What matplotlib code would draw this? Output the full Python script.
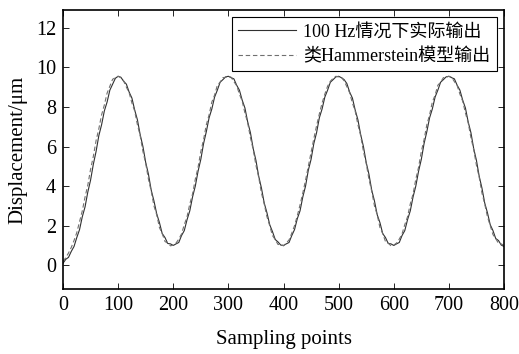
import matplotlib
matplotlib.use("Agg")
import matplotlib.pyplot as plt

sample_idx = list(range(0, 801, 5))

actual = [
    0.10, 0.30, 0.40, 0.70, 0.95, 1.40, 1.80, 2.45, 2.95, 3.70, 4.30, 5.10, 5.75, 6.55, 7.10, 7.80, 8.25, 8.85, 9.15, 9.45, 9.55,
    9.50, 9.30, 9.15, 8.75, 8.45, 7.85, 7.35, 6.60, 6.00, 5.20, 4.60, 3.80, 3.25, 2.60, 2.15, 1.60, 1.40, 1.10, 1.08, 1.00,
    1.08, 1.15, 1.50, 1.75, 2.30, 2.75, 3.45, 4.00, 4.75, 5.35, 6.15, 6.75, 7.45, 7.90, 8.50, 8.85, 9.25, 9.38, 9.52, 9.55,
    9.48, 9.42, 9.10, 8.85, 8.35, 7.95, 7.25, 6.70, 5.90, 5.30, 4.50, 3.90, 3.15, 2.65, 2.05, 1.70, 1.30, 1.18, 1.02, 1.00,
    1.08, 1.15, 1.50, 1.80, 2.35, 2.75, 3.45, 4.00, 4.80, 5.35, 6.15, 6.70, 7.45, 7.90, 8.50, 8.85, 9.25, 9.38, 9.52, 9.55,
    9.48, 9.38, 9.18, 8.75, 8.45, 7.85, 7.35, 6.60, 6.00, 5.20, 4.60, 3.80, 3.25, 2.55, 2.15, 1.60, 1.40, 1.10, 1.08, 1.00,
    1.08, 1.15, 1.50, 1.75, 2.30, 2.75, 3.45, 4.00, 4.75, 5.35, 6.15, 6.75, 7.45, 7.90, 8.50, 8.85, 9.25, 9.38, 9.52, 9.55,
    9.48, 9.42, 9.10, 8.85, 8.35, 7.95, 7.25, 6.70, 5.90, 5.30, 4.50, 3.90, 3.15, 2.65, 2.05, 1.75, 1.35, 1.25, 1.02, 0.95,
]

model = [
    0.20, 0.38, 0.62, 0.90, 1.25, 1.65, 2.20, 2.75, 3.45, 4.05, 4.85, 5.50, 6.30, 6.90, 7.60, 8.10, 8.70, 9.05, 9.40, 9.48, 9.55,
    9.48, 9.32, 9.00, 8.72, 8.20, 7.80, 7.10, 6.55, 5.75, 5.15, 4.35, 3.75, 3.00, 2.55, 1.90, 1.60, 1.20, 1.12, 0.98, 1.02,
    1.12, 1.32, 1.58, 2.05, 2.45, 3.10, 3.60, 4.35, 4.95, 5.75, 6.35, 7.10, 7.60, 8.25, 8.60, 9.10, 9.25, 9.48, 9.50, 9.55,
    9.50, 9.28, 9.08, 8.65, 8.30, 7.70, 7.20, 6.45, 5.85, 5.05, 4.45, 3.65, 3.10, 2.45, 2.00, 1.50, 1.30, 1.05, 1.05, 0.98,
    1.12, 1.28, 1.62, 2.00, 2.50, 3.05, 3.65, 4.30, 5.00, 5.70, 6.40, 7.05, 7.65, 8.20, 8.65, 9.05, 9.30, 9.45, 9.55, 9.52,
    9.50, 9.32, 9.02, 8.72, 8.20, 7.80, 7.10, 6.55, 5.75, 5.15, 4.35, 3.75, 3.00, 2.55, 1.90, 1.60, 1.20, 1.12, 0.98, 1.02,
    1.12, 1.32, 1.58, 2.05, 2.45, 3.10, 3.60, 4.35, 4.95, 5.75, 6.35, 7.10, 7.60, 8.25, 8.60, 9.10, 9.25, 9.48, 9.50, 9.55,
    9.50, 9.28, 9.08, 8.65, 8.30, 7.70, 7.20, 6.45, 5.85, 5.05, 4.45, 3.65, 3.10, 2.45, 2.00, 1.55, 1.35, 1.10, 1.08, 1.00,
]

x_ticks = [0, 100, 200, 300, 400, 500, 600, 700, 800]
y_ticks = [0, 2, 4, 6, 8, 10, 12]
label_actual = "100 Hz情况下实际输出"
label_model = "类Hammerstein模型输出"

plt.rcParams['font.family'] = ['Liberation Serif', 'Noto Sans CJK SC', 'DejaVu Sans']

fig = plt.figure(figsize=(5.19, 3.54), dpi=100)
ax = fig.add_axes([63/519, 1 - 289/354, (504 - 63)/519, (289 - 10)/354])

ax.plot(sample_idx, actual, color='#303030', lw=0.8, label=label_actual)
ax.plot(sample_idx, model, color='#707070', lw=0.8, ls=(0, (4, 2.5)), label=label_model)

ax.set_xlim(0, 800)
ax.set_ylim(-1.2, 12.9)
ax.set_xticks(x_ticks)
ax.set_yticks(y_ticks)
ax.tick_params(direction='in', top=True, right=True, labelsize=14.5, length=4, width=0.6, pad=5)
for s in ax.spines.values():
    s.set_linewidth(1.2)

ax.set_xlabel("Sampling points", fontsize=15, labelpad=11)
ax.set_ylabel("Displacement/μm", fontsize=15, labelpad=6)

leg = ax.legend(loc='upper right', fontsize=13, frameon=True, fancybox=False,
                edgecolor='black', framealpha=1, borderpad=0.35, labelspacing=0.4,
                handlelength=3.2, handletextpad=0.4, borderaxespad=0.4)
leg.get_frame().set_linewidth(0.8)

fig.savefig("out.png", dpi=100)
